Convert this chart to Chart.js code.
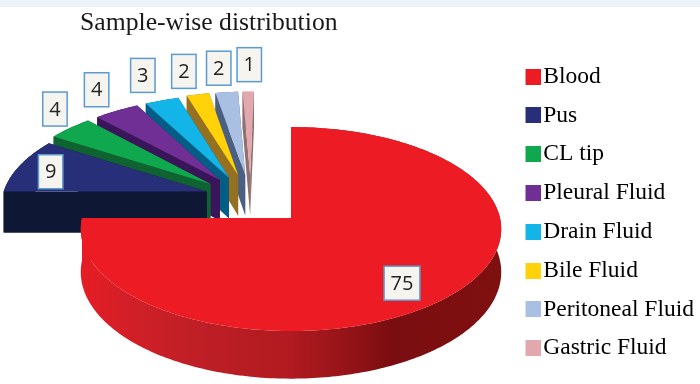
<!DOCTYPE html>
<html lang="en">
<head>
    <meta charset="UTF-8">
    <title>Sample-wise distribution</title>
    <script src="https://cdn.jsdelivr.net/npm/chart.js@4"></script>
    <style>
        html, body { margin: 0; padding: 0; }
        body { width: 700px; height: 384px; overflow: hidden; background: linear-gradient(#edf1f8 7px, #fff 7px); }
        canvas { display: block; }
    </style>
</head>
<body>
    <canvas id="pie" width="700" height="384"></canvas>
<script>
    const categories = ["Blood", "Pus", "CL tip", "Pleural Fluid", "Drain Fluid", "Bile Fluid", "Peritoneal Fluid", "Gastric Fluid"]
    const values = [75, 9, 4, 4, 3, 2, 2, 1]

    const topColors = ["#ed1c24", "#272f78", "#0fa84f", "#6f2f94", "#13b4e8", "#ffd20a", "#a9c0e2", "#e3a8ae"]
    const wallColors = [null, "#0e1733", "#0f6331", "#3b1559", "#045d85", "#967021", "#4b5f82", "#8f6f70"]
    const redWallStops = [[0, "#e61c24"], [0.1, "#d41f27"], [0.26, "#c01f26"], [0.5, "#b01a20"], [0.66, "#8f1216"], [0.74, "#7a0d10"], [1, "#7f1010"]]

    // how far each slice is pulled out of the pie, in pie radii
    const explode = [[0, 0], [-0.415, 0.27], [-0.4, 0.35], [-0.355, 0.393], [-0.31, 0.417], [-0.265, 0.445], [-0.23, 0.45], [-0.205, 0.45]]
    // value box position relative to the middle of the outer edge
    const labelNudge = [[-49, -12], [31, 6], [-15, -19], [-20, -21], [-19, -25], [-14, -23], [-8, -24], [1, -27]]

    // perspective of the tilted pie
    const view = { x0: 291, y0: 218, bx: 209, by: 100.8, k: 0.108, depth: 42.5 }

    function project(px, py, down) {
        let w = 1 + view.k * py
        return {
            x: view.x0 + view.bx * px / w,
            y: view.y0 - view.by * py / w + (down ? view.depth / w : 0)
        }
    }

    function fillPoly(ctx, pts, color) {
        ctx.beginPath()
        pts.forEach((p, i) => i ? ctx.lineTo(p.x, p.y) : ctx.moveTo(p.x, p.y))
        ctx.closePath()
        ctx.fillStyle = color
        ctx.fill()
    }

    const pie3d = {
        id: "pie3d",
        beforeDatasetsDraw(chart) {
            const ctx = chart.ctx
            const arcs = chart.getDatasetMeta(0).data

            let redWall = ctx.createLinearGradient(82, 0, 501, 0)
            redWallStops.forEach(s => redWall.addColorStop(s[0], s[1]))

            // back slices first, the big one last
            for (let i = arcs.length - 1; i >= 0; i--) {
                const { startAngle, endAngle } = arcs[i].getProps(["startAngle", "endAngle"], true)
                const [sx, sy] = explode[i]
                const steps = Math.max(4, Math.ceil((endAngle - startAngle) * 60))
                let rim = []
                for (let s = 0; s <= steps; s++) {
                    let a = startAngle + (endAngle - startAngle) * s / steps
                    rim.push([sx + Math.cos(a), sy - Math.sin(a)])
                }
                const top = rim.map(p => project(p[0], p[1], false))
                const low = rim.map(p => project(p[0], p[1], true))
                const apexTop = project(sx, sy, false)
                const apexLow = project(sx, sy, true)
                const wall = wallColors[i] || redWall

                fillPoly(ctx, [apexTop, top[steps], low[steps], apexLow], wall)
                fillPoly(ctx, top.concat(low.slice().reverse()), wall)
                fillPoly(ctx, [apexTop, top[0], low[0], apexLow], wall)
                fillPoly(ctx, [apexTop].concat(top), topColors[i])
            }

            // value boxes
            ctx.font = "20px 'Open Sans'"
            ctx.textAlign = "center"
            ctx.textBaseline = "middle"
            arcs.forEach((arc, i) => {
                const { startAngle, endAngle } = arc.getProps(["startAngle", "endAngle"], true)
                const mid = (startAngle + endAngle) / 2
                const p = project(explode[i][0] + Math.cos(mid), explode[i][1] - Math.sin(mid), false)
                const cx = p.x + labelNudge[i][0], cy = p.y + labelNudge[i][1]
                const text = String(values[i])
                const w = ctx.measureText(text).width + 13, h = 34
                ctx.fillStyle = "#f6f4ee"
                ctx.strokeStyle = "#5c9bd1"
                ctx.lineWidth = 1.5
                ctx.fillRect(cx - w / 2, cy - h / 2, w, h)
                ctx.strokeRect(cx - w / 2, cy - h / 2, w, h)
                ctx.fillStyle = "#222"
                ctx.fillText(text, cx, cy + 1)
            })
            return false
        }
    }

    // square sits right of the image centre so it lands just before the text
    function legendSquare(color) {
        let c = document.createElement("canvas")
        c.width = 20
        c.height = 16
        let g = c.getContext("2d")
        g.fillStyle = color
        g.fillRect(4, 0, 16, 16)
        return c
    }

    new Chart(document.getElementById("pie"), {
        type: "pie",
        data: {
            labels: categories,
            datasets: [{ data: values, backgroundColor: topColors, borderWidth: 0 }]
        },
        plugins: [pie3d],
        options: {
            responsive: false,
            animation: false,
            layout: { padding: { left: 80, right: -4, bottom: 1 } },
            plugins: {
                tooltip: { enabled: false },
                title: {
                    display: true,
                    text: "Sample-wise distribution",
                    align: "start",
                    color: "#1a1a1a",
                    font: { family: "'Liberation Serif'", size: 25.7, weight: "normal" },
                    padding: { top: 8, bottom: 3 }
                },
                legend: {
                    position: "right",
                    fullSize: false,
                    labels: {
                        color: "#1a1a1a",
                        font: { family: "'Liberation Serif'", size: 23.5 },
                        padding: 15.3,
                        usePointStyle: true,
                        pointStyleWidth: 0.01,
                        generateLabels: () => categories.map((name, i) => ({
                            text: name,
                            fillStyle: topColors[i],
                            strokeStyle: topColors[i],
                            lineWidth: 0,
                            pointStyle: legendSquare(topColors[i]),
                            index: i
                        }))
                    }
                }
            }
        }
    })
</script>
</body>
</html>
